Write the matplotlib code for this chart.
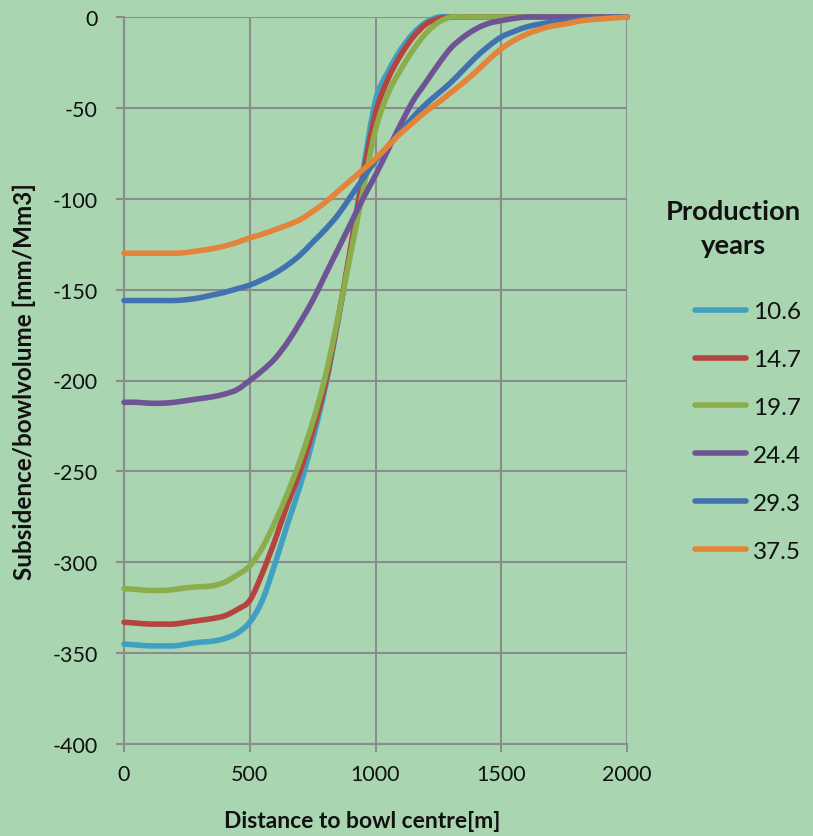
import matplotlib
matplotlib.use("Agg")
import numpy as np
import matplotlib.pyplot as plt
from matplotlib.path import Path
from matplotlib.patches import PathPatch
from matplotlib.lines import Line2D
from matplotlib.ticker import MultipleLocator

# Distance to bowl centre [m]
distance = [0, 50, 100, 150, 200, 250, 300, 350, 400, 450,
            500, 550, 600, 650, 700, 750, 800, 850, 900, 950,
            1000, 1050, 1100, 1150, 1200, 1250, 1300, 1350, 1400, 1450,
            1500, 1550, 1600, 1650, 1700, 1750, 1800, 1850, 1900, 1950, 2000]

# Subsidence per bowl volume [mm/Mm3] for each number of production years
years_10_6 = [-345, -345.5, -346, -346, -346, -345, -344, -343.5, -342, -339,
              -333, -321, -301, -279, -258, -233, -204, -168, -128, -85,
              -46, -30, -18, -9, -3, 0, 0, 0, 0, 0,
              0, 0, 0, 0, 0, 0, 0, 0, 0, 0, 0]
years_14_7 = [-333, -333.5, -334, -334, -334, -333, -332, -331, -329.5, -326,
              -321, -306, -288, -268, -250, -228, -202, -167, -128, -88,
              -53, -34, -21, -11, -4, -1, 0, 0, 0, 0,
              0, 0, 0, 0, 0, 0, 0, 0, 0, 0, 0]
years_19_7 = [-314.5, -315, -315.5, -315.5, -315, -314, -313.5, -313, -311, -307,
              -302, -292, -278, -262, -244, -223, -198, -166, -131, -96,
              -62, -42, -29, -18, -9, -3, 0, 0, 0, 0,
              0, 0, 0, 0, 0, 0, 0, 0, 0, 0, 0]
years_24_4 = [-212, -212, -212.5, -212.5, -212, -211, -210, -209, -207.5, -205,
              -200, -194.5, -188, -179, -168, -156, -142, -128, -114, -100,
              -87, -73, -59, -46, -36, -26, -17, -11, -6.5, -3.5,
              -2, -0.8, 0, 0, 0, 0, 0, 0, 0, 0, 0]
years_29_3 = [-156, -156, -156, -156, -156, -155.5, -154.5, -153, -151.5, -149.5,
              -147.5, -144.5, -141, -136.5, -131, -124, -117, -109, -99, -89,
              -79, -71, -63, -55, -48, -42, -36, -29, -22, -16,
              -11, -8, -5.5, -4, -3, -2.5, -1.5, -1, -0.5, 0, 0]
years_37_5 = [-130, -130, -130, -130, -130, -129.5, -128.5, -127.5, -126, -124,
              -121.5, -119.5, -117, -114.5, -111.5, -107, -102, -96, -90, -84,
              -78, -71, -64, -58, -52, -47, -41.5, -36, -30, -23.5,
              -17.5, -13, -9.5, -7, -5, -4, -2.5, -1.5, -1, -0.5, 0]

series_labels = ["10.6", "14.7", "19.7", "24.4", "29.3", "37.5"]
series_values = [years_10_6, years_14_7, years_19_7, years_24_4, years_29_3, years_37_5]
series_colors = ["#40A0C2", "#B5443F", "#8CAD4B", "#6E5494", "#4172AF", "#E4843A"]

BG = "#A9D5B1"
GRID = "#8C8C8C"
TEXT = "#111111"
LW = 4.0

plt.rcParams["font.family"] = ["Lato", "DejaVu Sans"]
plt.rcParams["axes.unicode_minus"] = False


def smoothed_path(xs, ys):
    """Cubic Bezier path through the points (smoothed line)."""
    pts = np.column_stack([xs, ys]).astype(float)
    n = len(pts)
    verts = [pts[0]]
    codes = [Path.MOVETO]
    for i in range(n - 1):
        p0 = pts[i - 1] if i > 0 else pts[i]
        p1 = pts[i]
        p2 = pts[i + 1]
        p3 = pts[i + 2] if i + 2 < n else pts[i + 1]
        verts += [p1 + (p2 - p0) / 6.0, p2 - (p3 - p1) / 6.0, p2]
        codes += [Path.CURVE4] * 3
    return Path(verts, codes)


fig = plt.figure(figsize=(8.13, 8.37), dpi=100, facecolor=BG)
ax = fig.add_axes([124 / 813, 1 - 745 / 837, 503 / 813, 727 / 837])
ax.set_facecolor(BG)

handles = []
for vals, lab, col in zip(series_values, series_labels, series_colors):
    patch = PathPatch(smoothed_path(distance, vals), fill=False, edgecolor=col,
                      lw=LW, capstyle="round", joinstyle="round",
                      zorder=3, clip_on=False)
    ax.add_patch(patch)
    handles.append(Line2D([], [], color=col, lw=LW, solid_capstyle="round",
                          label=lab))

ax.set_xlim(0, 2000)
ax.set_ylim(-400, 0)
ax.xaxis.set_major_locator(MultipleLocator(500))
ax.yaxis.set_major_locator(MultipleLocator(50))
ax.grid(True, color=GRID, lw=1.5, zorder=1)
ax.set_axisbelow(True)
for side in ("top", "right"):
    ax.spines[side].set_visible(False)
for side in ("left", "bottom"):
    ax.spines[side].set_color(GRID)
    ax.spines[side].set_linewidth(1.5)
ax.tick_params(axis="both", colors=GRID, width=1.5, length=5.5,
               labelcolor=TEXT, labelsize=15.5)
ax.tick_params(axis="y", pad=13.5)
ax.tick_params(axis="x", pad=9)

ax.set_xlabel("Distance to bowl centre[m]", fontsize=16.5, fontweight="bold",
              color=TEXT, labelpad=18.5)
ax.xaxis.label.set_x(0.473)
ax.set_ylabel("Subsidence/bowlvolume [mm/Mm3]", fontsize=17.5, fontweight="bold",
              color=TEXT, labelpad=12)

fig.text(733.5 / 813, 1 - 229.5 / 837, "Production\nyears", ha="center",
         va="center", fontsize=19.7, fontweight="bold", color=TEXT,
         linespacing=1.5)

leg = fig.legend(handles=handles, loc="upper right",
                 bbox_to_anchor=(801 / 813, 1 - 302 / 837),
                 frameon=False, fontsize=17.5, handlelength=2.08,
                 handletextpad=0.3, labelspacing=1.11, borderpad=0,
                 borderaxespad=0)
for t in leg.get_texts():
    t.set_color(TEXT)

fig.savefig("out.png", dpi=100, facecolor=BG)
